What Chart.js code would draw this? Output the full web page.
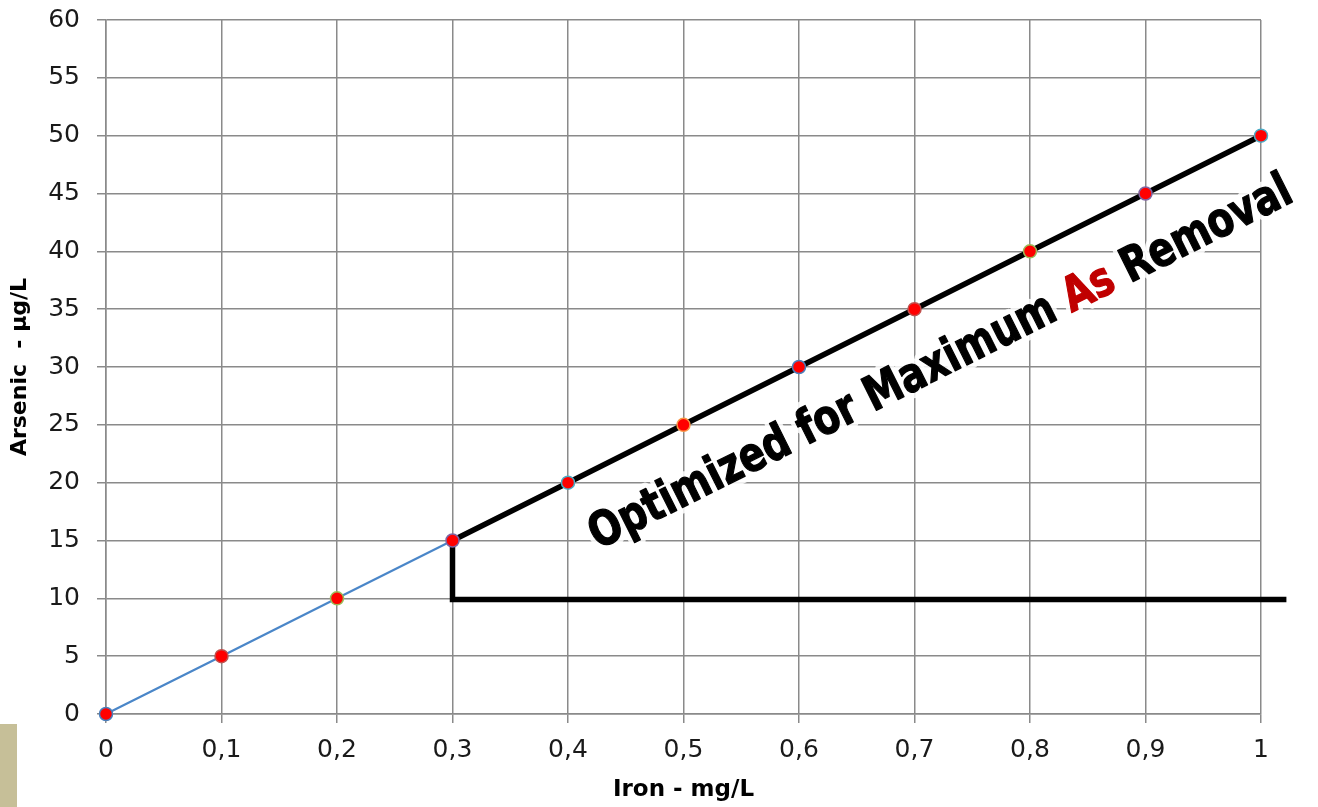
<!DOCTYPE html>
<html>
<head>
<meta charset="utf-8">
<script src="https://cdn.jsdelivr.net/npm/chart.js@4"></script>
<style>
  html, body { margin: 0; padding: 0; background: #ffffff; }
  #wrap { position: relative; width: 1318px; height: 807px; overflow: hidden; }
  #c { position: absolute; left: 0; top: 0; }
  #tab { position: absolute; left: 0; top: 724px; width: 17px; height: 83px; background: #c6bf98; }
</style>
</head>
<body>
<div id="wrap">
  <canvas id="c" width="1318" height="807"></canvas>
  <div id="tab"></div>
</div>
<script>
// ---- data ----
const ironValues    = [0, 0.1, 0.2, 0.3, 0.4, 0.5, 0.6, 0.7, 0.8, 0.9, 1.0];
const arsenicValues = [0, 5, 10, 15, 20, 25, 30, 35, 40, 45, 50];
const pointBorderColors = ['#4a7ebb', '#c0504d', '#9bbb59', '#8064a2', '#4bacc6', '#f79646',
                           '#4a7ebb', '#c0504d', '#9bbb59', '#8064a2', '#4bacc6'];
const blueEndIndex = 3;               // blue segment 0 -> 0.3
const thresholdLineX = [1.022, 0.3, 0.3];
const thresholdLineY = [9.9, 9.9, 15];
const xTickLabels = ['0', '0,1', '0,2', '0,3', '0,4', '0,5', '0,6', '0,7', '0,8', '0,9', '1'];
const yTickLabels = ['0', '5', '10', '15', '20', '25', '30', '35', '40', '45', '50', '55', '60'];
const xTitle = 'Iron - mg/L';
const yTitle = 'Arsenic  - µg/L';
const noteWords = [
  { text: 'Optimized for Maximum ', color: '#000000' },
  { text: 'As', color: '#c00000' },
  { text: ' Removal', color: '#000000' }
];
const noteAnchor = { x: 0.728, y: 29.3 };   // baseline midpoint, data units
const noteWidthPx = 780;
const noteSqueeze = 0.8;

// ---- build datasets ----
const bluePts = ironValues.slice(0, blueEndIndex + 1).map((x, i) => ({ x, y: arsenicValues[i] }));
const blackPts = thresholdLineX.map((x, i) => ({ x, y: thresholdLineY[i] }))
  .concat(ironValues.slice(blueEndIndex + 1).map((x, i) => ({ x, y: arsenicValues[i + blueEndIndex + 1] })));
const allPts = ironValues.map((x, i) => ({ x, y: arsenicValues[i] }));

const notePlugin = {
  id: 'note',
  afterDraw(chart) {
    const ctx = chart.ctx;
    const xs = chart.scales.x, ys = chart.scales.y;
    const x1 = xs.getPixelForValue(ironValues[blueEndIndex]), y1 = ys.getPixelForValue(arsenicValues[blueEndIndex]);
    const x2 = xs.getPixelForValue(ironValues[ironValues.length - 1]), y2 = ys.getPixelForValue(arsenicValues[arsenicValues.length - 1]);
    const ang = Math.atan2(y2 - y1, x2 - x1);
    const cx = xs.getPixelForValue(noteAnchor.x), cy = ys.getPixelForValue(noteAnchor.y);
    ctx.save();
    const fam = "'DejaVu Sans'";
    ctx.font = 'bold 100px ' + fam;
    const full = noteWords.map(w => w.text).join('');
    const w100 = ctx.measureText(full).width;
    const size = 100 * (noteWidthPx / noteSqueeze) / w100;
    ctx.font = 'bold ' + size.toFixed(2) + 'px ' + fam;
    ctx.translate(cx, cy);
    ctx.rotate(ang);
    ctx.scale(noteSqueeze, 1);
    ctx.textAlign = 'left';
    ctx.textBaseline = 'alphabetic';
    const x = -(noteWidthPx / noteSqueeze) / 2;
    ctx.lineJoin = 'round';
    ctx.strokeStyle = 'rgba(255,255,255,0.85)';
    ctx.lineWidth = 12;
    let xx = x;
    noteWords.forEach(w => { ctx.strokeText(w.text, xx, 0); xx += ctx.measureText(w.text).width; });
    xx = x;
    ctx.lineWidth = 1.3;
    noteWords.forEach(w => {
      ctx.fillStyle = w.color; ctx.strokeStyle = w.color;
      ctx.fillText(w.text, xx, 0); ctx.strokeText(w.text, xx, 0);
      xx += ctx.measureText(w.text).width;
    });
    ctx.restore();
  }
};

const gridColor = '#8a8a8a';
new Chart(document.getElementById('c'), {
  type: 'scatter',
  data: {
    datasets: [
      { data: allPts, showLine: false, pointRadius: 6.5, pointHoverRadius: 6.5, clip: false,
        pointBackgroundColor: '#ff0000', pointBorderColor: pointBorderColors, pointBorderWidth: 1.5, order: 0 },
      { data: blackPts, showLine: true, borderColor: '#000000', borderWidth: 5.5, pointRadius: 0,
        borderJoinStyle: 'miter', borderCapStyle: 'butt', clip: false, order: 1 },
      { data: bluePts, showLine: true, borderColor: '#4a86c8', borderWidth: 2.2, pointRadius: 0, order: 2 }
    ]
  },
  options: {
    responsive: false,
    animation: false,
    devicePixelRatio: 1,
    layout: { padding: { left: 0, right: 57, top: 20, bottom: 0 } },
    plugins: { legend: { display: false }, tooltip: { enabled: false } },
    scales: {
      x: {
        type: 'linear', min: 0, max: 1,
        afterFit(s) { s.height = 93; },
        ticks: { stepSize: 0.1, callback: (v, i) => xTickLabels[i], color: '#1a1a1a',
                 font: { family: 'DejaVu Sans', size: 25 }, padding: 12, maxRotation: 0, autoSkip: false },
        grid: { color: gridColor, lineWidth: 1.5, tickLength: 9 },
        border: { color: gridColor, width: 1.5 },
        title: { display: true, text: xTitle, color: '#000', font: { family: 'DejaVu Sans', size: 23, weight: 'bold' },
                 padding: { top: 0, bottom: 3 } }
      },
      y: {
        type: 'linear', min: 0, max: 60,
        afterFit(s) { s.width = 106; s.paddingTop = 0; s.paddingBottom = 0; },
        ticks: { stepSize: 5, callback: (v, i) => yTickLabels[i], color: '#1a1a1a',
                 font: { family: 'DejaVu Sans', size: 25 }, padding: 17 },
        grid: { color: gridColor, lineWidth: 1.5, tickLength: 9 },
        border: { color: gridColor, width: 1.5 },
        title: { display: true, text: yTitle, color: '#000', font: { family: 'DejaVu Sans', size: 22, weight: 'bold' },
                 padding: { top: 7, bottom: 0 } }
      }
    }
  },
  plugins: [notePlugin]
});
</script>
</body>
</html>
